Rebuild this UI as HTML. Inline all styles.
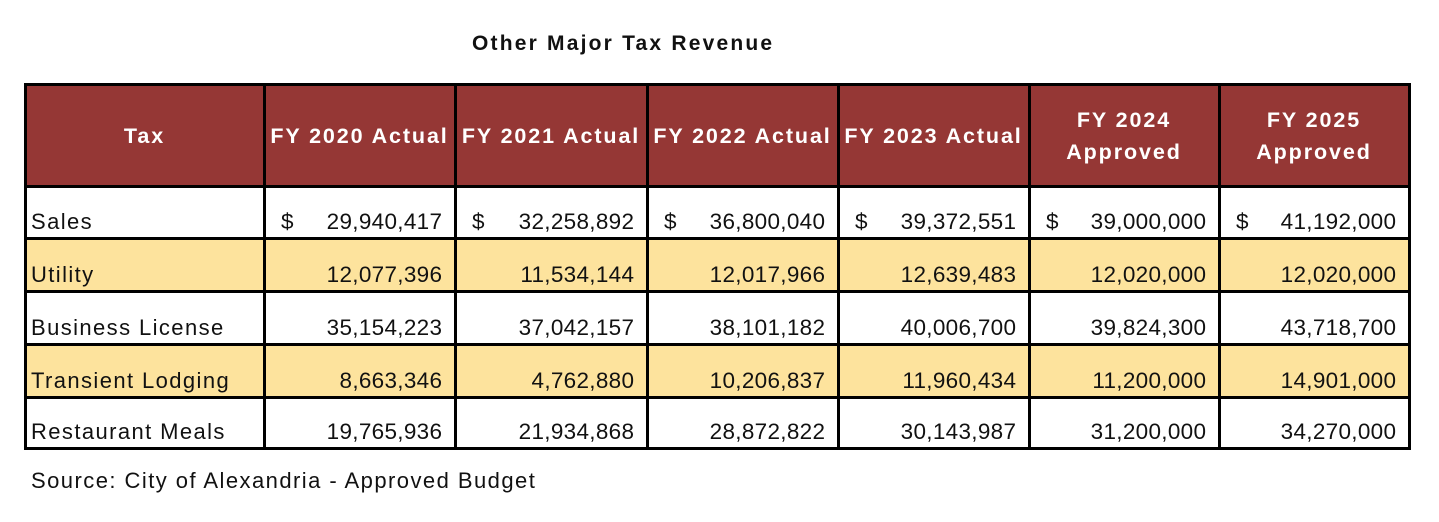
<!DOCTYPE html>
<html><head><meta charset="utf-8">
<style>
body{margin:0;width:1439px;height:522px;background:#fff;position:relative;overflow:hidden;font-family:"Liberation Sans",Arial,sans-serif;}
.t{position:absolute;white-space:nowrap;}
.cell{position:absolute;box-sizing:border-box;display:flex;overflow:hidden;}
.vline,.hline{position:absolute;background:#000;}
.num{letter-spacing:0.3px;margin-right:-0.3px;}
</style></head>
<body>
<div class="t" style="left:472px;top:32px;font-size:21px;font-weight:bold;color:#111;letter-spacing:2.2px;">Other Major Tax Revenue</div>
<div id="tbl"></div>
<div class="t" style="left:31px;top:468px;font-size:22px;color:#111;letter-spacing:1.45px;">Source: City of Alexandria - Approved Budget</div>
<script>
const headers=["Tax","FY 2020 Actual","FY 2021 Actual","FY 2022 Actual","FY 2023 Actual","FY 2024<br>Approved","FY 2025<br>Approved"];
const taxes=["Sales","Utility","Business License","Transient Lodging","Restaurant Meals"];
const sales=["29,940,417","32,258,892","36,800,040","39,372,551","39,000,000","41,192,000"];
const utility=["12,077,396","11,534,144","12,017,966","12,639,483","12,020,000","12,020,000"];
const business=["35,154,223","37,042,157","38,101,182","40,006,700","39,824,300","43,718,700"];
const lodging=["8,663,346","4,762,880","10,206,837","11,960,434","11,200,000","14,901,000"];
const meals=["19,765,936","21,934,868","28,872,822","30,143,987","31,200,000","34,270,000"];
const rows=[sales,utility,business,lodging,meals];

const colX=[25,264,455,647,838,1029,1219,1409];
const rowY=[85,186,238,291,344,397,448];
const tbl=document.getElementById('tbl');
function slug(s){return s.toLowerCase().replace(/<br>/g,' ').replace(/[^a-z0-9]+/g,'-').replace(/^-|-$/g,'');}
for(let c=0;c<7;c++){
  const d=document.createElement('div');d.className='cell';
  
  
  d.style.cssText=`left:${colX[c]}px;top:${rowY[0]}px;width:${colX[c+1]-colX[c]}px;height:${rowY[1]-rowY[0]}px;background:#953735;color:#fff;font-weight:bold;font-size:21.5px;letter-spacing:1.9px;align-items:center;justify-content:center;text-align:center;line-height:32px;`;
  d.innerHTML=headers[c];tbl.appendChild(d);
}
for(let r=0;r<5;r++){
  const bg=(r%2==1)?'#fde39d':'#fff';
  for(let c=0;c<7;c++){
    const d=document.createElement('div');d.className='cell';
    
    
    d.style.cssText=`left:${colX[c]}px;top:${rowY[r+1]}px;width:${colX[c+1]-colX[c]}px;height:${rowY[r+2]-rowY[r+1]}px;background:${bg};color:#111;font-size:22.5px;align-items:flex-end;padding-bottom:3px;`;
    if(c==0){d.style.paddingLeft='6px';d.style.letterSpacing='1.4px';d.style.fontSize='22px';d.textContent=taxes[r];}
    else{
      d.style.justifyContent='space-between';d.style.paddingLeft='17px';d.style.paddingRight='13px';
      const a=document.createElement('span');a.textContent=r==0?'$':'';
      const b=document.createElement('span');b.className='num';b.textContent=rows[r][c-1];
      d.appendChild(a);d.appendChild(b);
    }
    tbl.appendChild(d);
  }
}
for(let c=0;c<colX.length;c++){
  const v=document.createElement('div');v.className='vline';
  
  
  v.style.cssText=`left:${colX[c]-1}px;top:${rowY[0]-2}px;width:3px;height:${rowY[rowY.length-1]-rowY[0]+3}px;`;
  tbl.appendChild(v);
}
for(let r=0;r<rowY.length;r++){
  const h=document.createElement('div');h.className='hline';
  
  
  h.style.cssText=`left:${colX[0]-1}px;top:${rowY[r]-(r==0?2:1)}px;width:${colX[colX.length-1]-colX[0]+3}px;height:3px;`;
  tbl.appendChild(h);
}
</script>
</body></html>
